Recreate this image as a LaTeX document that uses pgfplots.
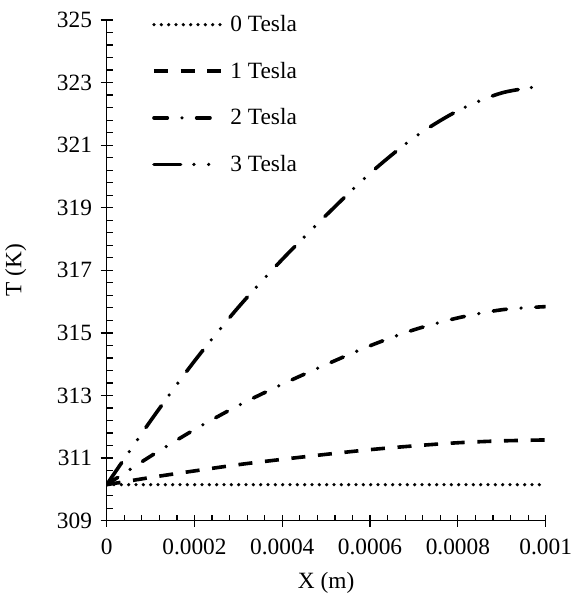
\documentclass[border=0pt]{standalone}
\usepackage{fontspec}
\setmainfont{Liberation Serif}
\usepackage{pgfplots}
\pgfplotsset{compat=1.18}

\begin{document}
\begin{tikzpicture}
\useasboundingbox (-80pt,-59.5pt) rectangle (354.25pt,390.5pt);
\begin{axis}[
  scale only axis,
  width=329.25pt, height=375.5pt,
  at={(0,0)}, anchor=south west,
  xmin=0, xmax=0.001, ymin=309, ymax=325,
  axis x line*=bottom, axis y line*=left,
  axis line style={line width=1.2pt},
  xtick={0,0.0002,0.0004,0.0006,0.0008,0.001},
  xticklabels={0,0.0002,0.0004,0.0006,0.0008,0.001},
  scaled x ticks=false,
  ytick={309,311,...,325},
  minor x tick num=4, minor y tick num=4,
  tick align=center,
  major tick length=9pt, minor tick length=4.5pt,
  every tick/.style={black, line width=0.9pt},
  minor x tick style={yshift=2.25pt},
  minor y tick style={xshift=2.25pt},
  /pgf/number format/assume math mode=true,
  tick label style={font=\fontsize{17.5}{20}\selectfont},
  xticklabel style={yshift=-6pt},
  yticklabel style={xshift=-3pt},
  label style={font=\fontsize{17.5}{20}\selectfont},
  xlabel={X (m)}, ylabel={T (K)},
  xlabel style={yshift=-6pt},
  ylabel style={yshift=16pt},
  legend style={draw=none, fill=none, at={(0.094,1.02)}, anchor=north west,
    font=\fontsize{17.5}{20}\selectfont, row sep=17.3pt},
  legend cell align=left,
  legend image code/.code={\draw[#1] (0pt,0pt) -- (50pt,0pt); \path (54pt,0pt);},
  every axis plot/.append style={black, line width=2.7pt, smooth},
]
\addplot[line cap=round, dash pattern=on 0pt off 5.5pt] coordinates {
(0,310.15) (0.0001,310.15) (0.0002,310.15) (0.0003,310.15) (0.0004,310.15) (0.0005,310.15)
(0.0006,310.15) (0.0007,310.15) (0.0008,310.15) (0.0009,310.15) (0.001,310.15)};
\addlegendentry{0 Tesla}
\addplot[dash pattern=on 10.5pt off 9.5pt] coordinates {
(0,310.15) (0.0001,310.38) (0.0002,310.59) (0.0003,310.79) (0.0004,310.96) (0.0005,311.12)
(0.0006,311.27) (0.0007,311.39) (0.0008,311.49) (0.0009,311.55) (0.001,311.58)};
\addlegendentry{1 Tesla}
\addplot[line cap=round, dash pattern=on 10pt off 11pt on 0pt off 11pt] coordinates {
(0,310.15) (0.0001,311.06) (0.0002,311.91) (0.0003,312.68) (0.0004,313.36) (0.0005,313.99)
(0.0006,314.59) (0.0007,315.10) (0.0008,315.48) (0.0009,315.74) (0.001,315.84)};
\addlegendentry{2 Tesla}
\addplot[line cap=round, dash pattern=on 20pt off 10pt on 0pt off 11pt on 0pt off 11pt] coordinates {
(0,310.15) (0.0001,312.19) (0.0002,314.10) (0.0003,315.82) (0.0004,317.35) (0.0005,318.76)
(0.0006,320.10) (0.0007,321.24) (0.0008,322.10) (0.0009,322.67) (0.001,322.90)};
\addlegendentry{3 Tesla}
\end{axis}
\end{tikzpicture}
\end{document}
